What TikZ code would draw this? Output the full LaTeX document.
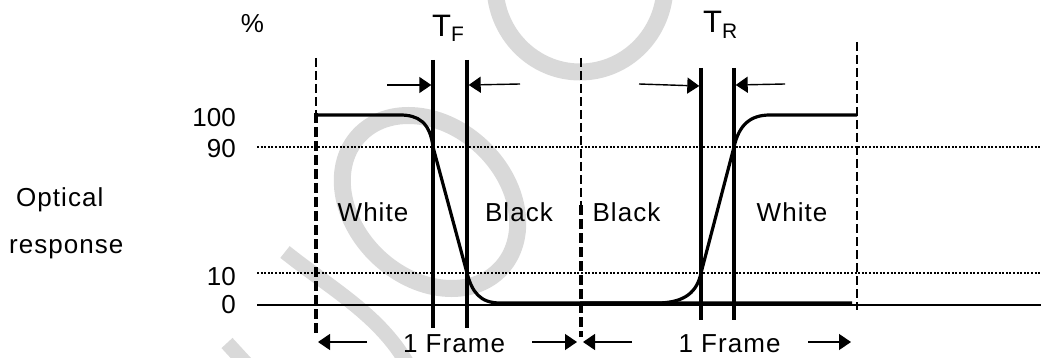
\documentclass[tikz,border=0pt]{standalone}
\usepackage{fontspec}
\setmainfont{Liberation Sans}
\newfontfamily\spacedfont{Liberation Sans}[LetterSpace=4]
\usetikzlibrary{arrows.meta}
\definecolor{wm}{RGB}{217,217,217}
\begin{document}
\begin{tikzpicture}[x=1pt,y=-1pt,
  wmark/.style={draw=wm, line width=17pt},
  thindash/.style={line width=2.2pt, dash pattern=on 9pt off 4pt},
  thickdash/.style={line width=4pt, dash pattern=on 10pt off 4pt},
  level/.style={line width=1.1pt, dash pattern=on 2pt off 1.6pt},
  axisline/.style={line width=1.6pt},
  marker/.style={line width=3.3pt},
  resp/.style={line width=3.2pt, line join=round},
  pointer/.style={line width=1.4pt, -{Triangle[length=12pt,width=16pt]}},
  lbl/.style={font=\fontsize{26}{30}\selectfont, inner sep=0pt},
  word/.style={font=\spacedfont\fontsize{26}{30}\selectfont, inner sep=0pt}]
\useasboundingbox (0,0) rectangle (1041,358);
% watermark
\begin{scope}
  \clip (0,0) rectangle (1041,358);
  \draw[wmark, shift={(430,202)}, xslant=-0.25] (0,0) ellipse [x radius=85, y radius=86.5];
  \draw[wmark] (580,-15) ellipse [x radius=85, y radius=87];
  \draw[wm, line width=15pt] (285,252) .. controls (330,288) and (380,315) .. (408,365);
  \draw[wm, line width=15pt] (227,343) -- (250,368);
\end{scope}
% coordinates
\coordinate (d1t) at (316,58);  \coordinate (d1m) at (316,113); \coordinate (d1b) at (316,334);
\coordinate (d2t) at (581,58);  \coordinate (d2m) at (581,205); \coordinate (d2b) at (581,337);
\coordinate (d3t) at (857,42);  \coordinate (d3b) at (857,310);
\coordinate (f1t) at (433,60);  \coordinate (f1b) at (433,328);
\coordinate (f2t) at (467,60);  \coordinate (f2b) at (467,328);
\coordinate (r1t) at (701,68);  \coordinate (r1b) at (701,320);
\coordinate (r2t) at (734,68);  \coordinate (r2b) at (734,320);
\coordinate (l90a) at (257,147); \coordinate (l90b) at (1041,147);
\coordinate (l10a) at (257,273); \coordinate (l10b) at (1041,273);
\coordinate (ax0a) at (257,305); \coordinate (ax0b) at (1041,305);
% level lines
\draw[level] (l90a) -- (l90b);
\draw[level] (l10a) -- (l10b);
\draw[axisline] (ax0a) -- (ax0b);
% frame boundaries
\draw[thindash] (d1t) -- (d1m);
\draw[thickdash] (d1m) -- (d1b);
\draw[thindash] (d2t) -- (d2m);
\draw[thickdash] (d2m) -- (d2b);
\draw[thindash] (d3t) -- (d3b);
% time markers
\draw[marker] (f1t) -- (f1b);
\draw[marker] (f2t) -- (f2b);
\draw[marker] (r1t) -- (r1b);
\draw[marker] (r2t) -- (r2b);
% response curves
\draw[resp] (316,115) -- (400,115) .. controls (418,115) and (430,122) .. (433,147)
  -- (467,273) .. controls (472,292) and (480,303) .. (500,303) -- (852,303);
\draw[resp] (580,303) -- (660,303) .. controls (685,302) and (697,292) .. (701,273)
  -- (734,147) .. controls (739,125) and (750,115) .. (770,115) -- (857,115);
% pointer arrows
\coordinate (a1s) at (387,85);  \coordinate (a1e) at (431.3,85);
\coordinate (a2s) at (520,84);  \coordinate (a2e) at (468.7,85);
\coordinate (a3s) at (639,84);  \coordinate (a3e) at (699.3,86);
\coordinate (a4s) at (785,84);  \coordinate (a4e) at (735.7,85);
\draw[pointer] (a1s) -- (a1e);
\draw[pointer] (a2s) -- (a2e);
\draw[pointer] (a3s) -- (a3e);
\draw[pointer] (a4s) -- (a4e);
\coordinate (b1s) at (367,342); \coordinate (b1e) at (318,342);
\coordinate (b2s) at (532,342); \coordinate (b2e) at (577,342);
\coordinate (b3s) at (632,342); \coordinate (b3e) at (583,342);
\coordinate (b4s) at (808,342); \coordinate (b4e) at (851,342);
\draw[pointer] (b1s) -- (b1e);
\draw[pointer] (b2s) -- (b2e);
\draw[pointer] (b3s) -- (b3e);
\draw[pointer] (b4s) -- (b4e);
% labels
\node[lbl, anchor=base] (pct) at (252.5,33) {\%};
\node[inner sep=0pt, anchor=base west] (tf) at (432,37)
  {\fontsize{31}{31}\selectfont T\raisebox{-5pt}{\fontsize{21}{21}\selectfont F}};
\node[inner sep=0pt, anchor=base west] (tr) at (703,33)
  {\fontsize{31}{31}\selectfont T\raisebox{-6pt}{\fontsize{21}{21}\selectfont R}};
\node[lbl, anchor=base east] (v100) at (236,127) {100};
\node[lbl, anchor=base east] (v90) at (236,158) {90};
\node[lbl, anchor=base east] (v10) at (236,285) {10};
\node[lbl, anchor=base east] (v0) at (236,313) {0};
\node[word, anchor=base west] (opt) at (16,207) {Optical};
\node[word, anchor=base west] (rsp) at (9,253) {response};
\node[word, anchor=base] (w1) at (373,222) {White};
\node[word, anchor=base] (k1) at (519,222) {Black};
\node[word, anchor=base] (k2) at (626.5,222) {Black};
\node[word, anchor=base] (w2) at (792,222) {White};
\node[word, anchor=base, text depth=0pt] (fr1) at (454,352) {1 Frame};
\node[word, anchor=base, text depth=0pt] (fr2) at (729.5,352) {1 Frame};
\end{tikzpicture}
\end{document}
